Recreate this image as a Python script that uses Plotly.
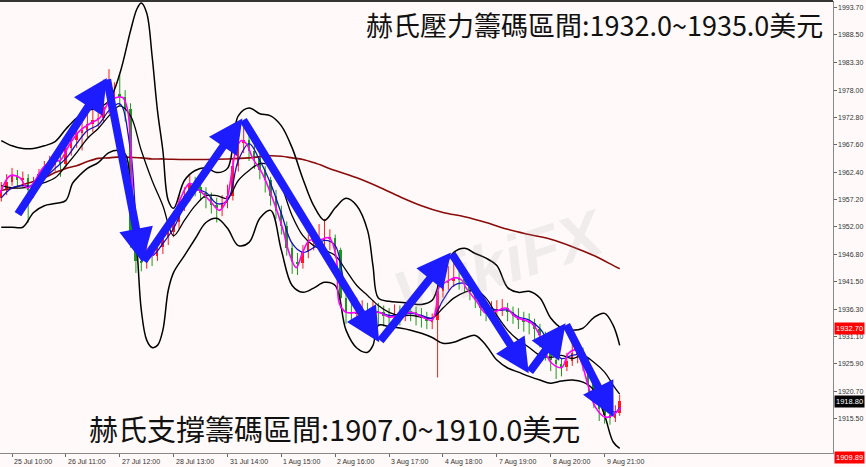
import plotly.graph_objects as go

# ---------------- data ----------------
time_tick_bars = [0, 25, 50, 75, 100, 125, 150, 175, 200, 225, 250, 275]
time_tick_text = ["25 Jul 10:00", "26 Jul 11:00", "27 Jul 12:00", "28 Jul 13:00",
                  "31 Jul 14:00", "1 Aug 15:00", "2 Aug 16:00", "3 Aug 17:00",
                  "4 Aug 18:00", "7 Aug 19:00", "8 Aug 20:00", "9 Aug 21:00"]
price_ticks = [1993.70, 1988.50, 1983.30, 1978.00, 1972.80, 1967.60, 1962.40, 1957.20,
               1952.00, 1946.80, 1941.50, 1936.30, 1931.10, 1925.90, 1920.70, 1915.50]

# candles, one every 2.5 hourly bars
candle_bar = [-5, -2.5, 0, 2.5, 5, 7.5, 10, 12.5, 15, 17.5, 20, 22.5, 25, 27.5, 30, 32.5, 35,
              37.5, 40, 42.5, 45, 47.5, 50, 52.5, 55, 57.5, 60, 62.5, 65, 67.5, 70, 72.5, 75,
              77.5, 80, 82.5, 85, 87.5, 90, 92.5, 95, 97.5, 100, 102.5, 105, 107.5, 110, 112.5,
              115, 117.5, 120, 122.5, 125, 127.5, 130, 132.5, 135, 137.5, 140, 142.5, 145,
              147.5, 150, 152.5, 155, 157.5, 160, 162.5, 165, 167.5, 170, 172.5, 175, 177.5,
              180, 182.5, 185, 187.5, 190, 192.5, 195, 197.5, 200, 202.5, 205, 207.5, 210,
              212.5, 215, 217.5, 220, 222.5, 225, 227.5, 230, 232.5, 235, 237.5, 240, 242.5,
              245, 247.5, 250, 252.5, 255, 257.5, 260, 262.5, 265, 267.5, 270, 272.5, 275,
              277.5, 280, 282]
candle_close = [1958.9, 1960.5, 1961.7, 1960.8, 1961.3, 1958.9, 1960.2, 1962.0, 1963.2, 1963.8,
                1964.6, 1964.0, 1966.9, 1968.5, 1969.9, 1970.4, 1971.6, 1972.4, 1972.7, 1974.8,
                1976.0, 1977.2, 1976.6, 1974.5, 1950.0, 1945.5, 1945.2, 1946.8, 1946.5, 1948.2,
                1950.0, 1951.0, 1952.8, 1956.2, 1957.9, 1960.3, 1959.6, 1958.5, 1957.5, 1956.2,
                1955.5, 1956.5, 1957.9, 1963.5, 1968.0, 1968.6, 1966.5, 1965.0, 1962.7, 1960.8,
                1957.9, 1955.0, 1952.2, 1948.0, 1945.2, 1945.0, 1947.1, 1949.0, 1949.4, 1949.6,
                1949.8, 1949.9, 1947.5, 1938.5, 1935.7, 1935.3, 1935.7, 1936.0, 1935.5, 1935.9,
                1935.7, 1935.0, 1934.8, 1935.4, 1935.1, 1935.9, 1935.7, 1935.0, 1934.8, 1934.0,
                1934.2, 1939.8, 1941.2, 1941.7, 1942.2, 1942.0, 1941.2, 1939.5, 1938.0, 1936.5,
                1935.5, 1936.0, 1936.1, 1936.6, 1935.7, 1935.0, 1934.2, 1934.0, 1933.6, 1932.5,
                1931.3, 1928.2, 1926.6, 1925.8, 1925.3, 1926.5, 1927.9, 1928.2, 1926.2, 1922.0,
                1919.0, 1917.2, 1916.1, 1915.6, 1916.5, 1918.8]
candle_high = [1960.5, 1962.0, 1963.2, 1962.8, 1962.5, 1962.0, 1961.5, 1963.0, 1964.5, 1965.5,
               1966.0, 1965.8, 1968.5, 1970.0, 1971.5, 1972.0, 1973.5, 1974.5, 1976.5, 1980.0,
               1982.0, 1979.5, 1981.0, 1978.0, 1975.5, 1952.0, 1947.5, 1948.5, 1948.8, 1950.0,
               1951.5, 1953.0, 1955.0, 1958.0, 1959.5, 1961.8, 1961.5, 1960.5, 1959.5, 1958.5,
               1957.5, 1958.0, 1960.0, 1965.0, 1972.0, 1971.5, 1969.5, 1967.5, 1966.0, 1963.5,
               1961.5, 1959.0, 1956.0, 1953.0, 1949.0, 1947.0, 1948.5, 1950.5, 1951.5, 1952.5,
               1953.5, 1951.5, 1950.5, 1948.0, 1939.5, 1937.5, 1938.5, 1938.0, 1937.5, 1938.0,
               1937.5, 1937.0, 1936.5, 1937.2, 1937.0, 1937.5, 1937.5, 1936.8, 1936.5, 1935.8,
               1935.5, 1941.0, 1943.5, 1944.5, 1945.5, 1944.0, 1943.0, 1942.0, 1940.0, 1938.5,
               1937.0, 1937.8, 1938.0, 1938.2, 1937.5, 1936.8, 1936.5, 1935.8, 1935.5, 1934.5,
               1933.5, 1932.0, 1929.5, 1927.5, 1927.0, 1928.0, 1931.0, 1930.0, 1929.0, 1927.0,
               1923.0, 1920.0, 1918.5, 1917.5, 1918.0, 1920.0]
candle_low = [1956.8, 1958.0, 1959.8, 1959.5, 1959.6, 1952.8, 1957.5, 1959.3, 1961.0, 1962.0,
              1962.5, 1961.5, 1963.0, 1965.5, 1967.0, 1966.5, 1969.0, 1970.0, 1971.0, 1972.0,
              1973.5, 1974.5, 1975.0, 1972.0, 1948.0, 1943.2, 1943.5, 1944.0, 1944.5, 1945.5,
              1946.8, 1948.5, 1950.0, 1951.5, 1955.0, 1956.8, 1957.8, 1957.0, 1955.5, 1954.5,
              1952.8, 1954.0, 1955.5, 1957.0, 1962.5, 1966.0, 1964.5, 1963.0, 1961.0, 1958.5,
              1956.0, 1953.5, 1950.5, 1946.5, 1943.0, 1942.8, 1944.0, 1946.0, 1947.5, 1947.8,
              1948.0, 1947.5, 1946.0, 1936.5, 1933.5, 1933.8, 1933.5, 1934.0, 1933.5, 1934.0,
              1933.2, 1933.0, 1932.8, 1933.5, 1933.2, 1934.0, 1934.0, 1933.2, 1932.8, 1932.5,
              1932.5, 1923.3, 1938.5, 1940.0, 1940.5, 1940.0, 1939.5, 1938.0, 1936.5, 1935.0,
              1934.0, 1934.5, 1934.5, 1935.0, 1934.0, 1933.5, 1932.5, 1932.0, 1931.5, 1930.5,
              1929.0, 1926.5, 1924.5, 1923.0, 1923.5, 1924.5, 1925.5, 1926.0, 1924.5, 1920.5,
              1917.5, 1915.0, 1914.5, 1914.3, 1914.8, 1916.0]
first_open = 1957.5

ma_fast_bar = [-5.5, -0.9, 3.7, 6.9, 9.7, 14.4, 19, 22.2, 26.9, 31.5, 36.1, 40.7, 45.4, 48.6,
               51.4, 53.7, 56.9, 59.3, 63.9, 68.5, 73.1, 77.8, 82.4, 87, 91.7, 96.3, 99.5,
               101.9, 104.2, 106.5, 108.8, 111.6, 116.2, 120.8, 125.5, 128.7, 131.9, 134.7,
               138, 142.6, 147.2, 150.5, 151.9, 155.1, 161.1, 165.7, 170.4, 175, 179.6, 185.6,
               190.3, 194.9, 196.8, 198.1, 202.8, 206, 208.8, 210.6, 215.3, 219.9, 225.9,
               229.2, 233.8, 241.2, 244.4, 247.7, 250.5, 255.1, 258.3, 261.6, 264.4, 267.6,
               270.8, 275.5, 280.1, 282.4]
ma_fast = [1958.3, 1961.7, 1961.3, 1959.4, 1960.2, 1963.2, 1964.6, 1964.6, 1967.8, 1970.3,
           1971.6, 1972.7, 1976.0, 1976.6, 1976.6, 1974.1, 1951.3, 1946.5, 1946.1, 1949.4,
           1951.9, 1957.0, 1960.2, 1958.9, 1957.0, 1955.1, 1957.0, 1962.1, 1967.0, 1968.4,
           1967.8, 1965.1, 1962.1, 1957.5, 1951.8, 1946.9, 1944.2, 1946.9, 1949.4, 1949.4,
           1949.9, 1946.1, 1937.4, 1935.7, 1935.7, 1935.5, 1935.7, 1934.8, 1935.1, 1935.7,
           1934.8, 1934.2, 1936.6, 1940.4, 1941.8, 1942.3, 1941.8, 1940.4, 1938.0, 1935.5,
           1936.1, 1936.5, 1934.8, 1933.6, 1931.7, 1927.9, 1926.0, 1925.2, 1927.9, 1928.5,
           1926.0, 1921.4, 1917.6, 1915.7, 1916.5, 1917.6]

grid_bar = [-5, 0, 5, 10, 15, 20, 25, 30, 35, 40, 45, 50, 55, 60, 65, 70, 75, 80, 85, 90, 95,
            100, 105, 110, 115, 120, 125, 130, 135, 140, 145, 150, 155, 160, 165, 170, 175,
            180, 185, 190, 195, 200, 205, 210, 215, 220, 225, 230, 235, 240, 245, 250, 255,
            260, 265, 270, 275, 280, 282]
ma_slow = [1957.5, 1959.4, 1959.8, 1959.8, 1961.3, 1963.1, 1965.0, 1967.8, 1970.3, 1971.4,
           1974.1, 1975.4, 1966.5, 1948.4, 1946.5, 1948.8, 1951.7, 1956.0, 1958.9, 1958.5,
           1956.4, 1957.0, 1964.6, 1967.8, 1964.6, 1960.2, 1954.5, 1948.8, 1947.1, 1948.0,
           1949.4, 1948.4, 1939.9, 1936.5, 1935.7, 1935.7, 1935.1, 1935.1, 1935.5, 1935.1,
           1934.6, 1938.0, 1940.8, 1941.2, 1939.5, 1937.0, 1936.1, 1936.1, 1934.8, 1934.2,
           1932.6, 1929.4, 1926.9, 1927.5, 1927.5, 1922.8, 1918.0, 1916.7, 1917.6]

ma_long_bar = [-5, 0, 5, 10, 15, 20, 25, 30, 35, 40, 45, 50, 55, 60, 65, 70, 80, 90, 100, 110,
               120, 125, 130, 135, 140, 150, 160, 170, 180, 190, 200, 210, 220, 230, 240, 250,
               260, 270, 280, 282]
ma_long = [1958.9, 1959.3, 1960.0, 1960.6, 1961.3, 1962.3, 1963.1, 1963.6, 1964.4, 1965.0,
           1965.1, 1965.3, 1965.2, 1965.1, 1964.9, 1964.9, 1964.8, 1964.8, 1964.9, 1965.1,
           1965.5, 1965.4, 1965.1, 1964.8, 1964.2, 1962.7, 1961.3, 1959.6, 1957.7, 1956.0,
           1954.7, 1953.9, 1952.8, 1951.5, 1950.5, 1949.6, 1948.2, 1946.5, 1944.4, 1944.0]

band_up_bar = [-5, 0, 5, 10, 15, 20, 25, 30, 35, 40, 45, 50, 55, 58, 60, 62.5, 65, 67.5, 70,
               72.5, 75, 80, 85, 90, 95, 100, 105, 110, 115, 120, 125, 130, 135, 140, 145, 150,
               155, 160, 165, 167.5, 170, 175, 180, 185, 190, 195, 200, 205, 210, 215, 220,
               225, 230, 235, 240, 245, 250, 255, 260, 265, 270, 275, 279, 282]
band_up = [1968.4, 1967.4, 1966.9, 1966.9, 1967.4, 1968.2, 1970.6, 1972.7, 1974.1, 1974.6,
           1976.0, 1981.1, 1989.3, 1993.5, 1994.6, 1992.7, 1984.5, 1974.1, 1966.5, 1957.0,
           1955.5, 1960.8, 1962.7, 1963.2, 1962.3, 1963.1, 1973.1, 1974.6, 1973.5, 1973.1,
           1971.2, 1967.0, 1961.1, 1956.0, 1953.2, 1955.6, 1957.4, 1956.0, 1951.3, 1944.6,
           1938.4, 1937.8, 1937.6, 1937.4, 1937.2, 1938.0, 1943.7, 1947.1, 1947.9, 1946.9,
           1946.0, 1944.6, 1940.4, 1939.5, 1939.7, 1938.4, 1934.6, 1932.7, 1932.3, 1932.7,
           1934.7, 1935.5, 1933.2, 1929.4]

band_low_bar = [-5, 0, 5, 10, 15, 20, 25, 28, 30, 35, 40, 45, 50, 53, 55, 58, 60, 62.5, 65,
                67.5, 70, 72.5, 75, 80, 85, 90, 95, 100, 105, 110, 115, 120, 125, 130, 135,
                140, 145, 150, 155, 160, 165, 167.5, 170, 175, 180, 185, 190, 195, 200, 205,
                210, 215, 220, 225, 230, 235, 240, 245, 250, 255, 260, 265, 270, 275, 279, 282]
band_low = [1951.9, 1951.9, 1951.9, 1954.7, 1956.0, 1956.4, 1957.0, 1960.2, 1961.2, 1963.1,
            1964.2, 1966.1, 1966.5, 1965.5, 1958.9, 1947.5, 1936.1, 1930.4, 1929.0, 1929.4,
            1932.3, 1939.9, 1943.3, 1946.5, 1949.7, 1952.8, 1953.6, 1951.7, 1948.4, 1949.0,
            1953.6, 1955.1, 1947.5, 1940.8, 1939.5, 1940.3, 1941.4, 1940.8, 1932.3, 1928.9,
            1928.1, 1929.4, 1933.2, 1933.0, 1932.7, 1932.3, 1931.7, 1930.9, 1929.8, 1930.0,
            1930.8, 1931.3, 1929.4, 1926.6, 1925.1, 1924.3, 1923.5, 1922.8, 1922.2, 1922.6,
            1922.8, 1922.4, 1920.9, 1916.1, 1911.0, 1909.8]

band_mid_bar = [-5, 0, 5, 10, 15, 20, 25, 30, 35, 40, 45, 50, 55, 60, 65, 70, 75, 80, 85, 90,
                95, 100, 105, 110, 115, 120, 125, 130, 135, 140, 145, 150, 155, 160, 165, 170,
                175, 180, 185, 190, 195, 200, 205, 210, 215, 220, 225, 230, 235, 240, 245, 250,
                255, 260, 265, 270, 275, 279, 282]
band_mid = [1959.8, 1959.4, 1959.4, 1959.8, 1960.4, 1961.3, 1963.6, 1966.1, 1968.8, 1970.7,
            1973.1, 1975.0, 1973.1, 1966.5, 1960.8, 1956.0, 1950.3, 1953.2, 1956.0, 1957.9,
            1957.9, 1957.4, 1960.8, 1962.7, 1964.0, 1963.6, 1959.8, 1954.1, 1950.3, 1948.4,
            1947.5, 1946.5, 1943.7, 1940.8, 1938.9, 1937.0, 1935.7, 1935.1, 1935.1, 1934.8,
            1934.6, 1936.5, 1938.4, 1939.5, 1939.9, 1938.4, 1935.1, 1932.3, 1930.4, 1929.0,
            1927.5, 1927.1, 1927.5, 1926.9, 1927.5, 1926.2, 1924.3, 1921.8, 1920.1]

# blue hand-drawn arrows: (bar, price) of the turning points
arrow_bar = [2.3, 44.0, 60.6, 106.9, 170.4, 203.7, 239.8, 256.9, 279.2]
arrow_price = [1954.1, 1980.3, 1945.2, 1972.6, 1930.0, 1947.1, 1924.1, 1933.6, 1915.7]

resist_level = 1932.70
support_level = 1909.89
last_price = 1918.80
text_top = "赫氏壓力籌碼區間:1932.0~1935.0美元"
text_bottom = "赫氏支撐籌碼區間:1907.0~1910.0美元"

# ---------------- figure ----------------
fig = go.Figure()

up_color = "#ff1a1a"
down_color = "#1a9a1a"
candle_open = [first_open] + candle_close[:-1]

# candles: wicks as line segments, bodies as floating bars
for col, cond in ((up_color, True), (down_color, False)):
    xs, ys = [], []
    bx, bb, bh = [], [], []
    for b, o, h, l, c in zip(candle_bar, candle_open, candle_high, candle_low, candle_close):
        if (c >= o) == cond:
            xs += [b, b, None]
            ys += [l, h, None]
            bx.append(b)
            bb.append(min(o, c))
            bh.append(max(abs(c - o), 0.3))
    fig.add_trace(go.Scatter(x=xs, y=ys, mode="lines", line=dict(color=col, width=1),
                             hoverinfo="skip", showlegend=False))
    fig.add_trace(go.Bar(x=bx, y=bh, base=bb, width=0.9, marker=dict(color=col, line_width=0),
                         hoverinfo="skip", showlegend=False))

line_kw = dict(mode="lines", hoverinfo="skip", showlegend=False)
fig.add_trace(go.Scatter(x=ma_long_bar, y=ma_long, line=dict(color="#8b0a0a", width=1.6, shape="spline"), **line_kw))
fig.add_trace(go.Scatter(x=band_up_bar, y=band_up, line=dict(color="#000000", width=1.5, shape="spline"), **line_kw))
fig.add_trace(go.Scatter(x=band_mid_bar, y=band_mid, line=dict(color="#000000", width=1.3, shape="spline"), **line_kw))
fig.add_trace(go.Scatter(x=band_low_bar, y=band_low, line=dict(color="#000000", width=1.5, shape="spline"), **line_kw))
fig.add_trace(go.Scatter(x=grid_bar, y=ma_slow, line=dict(color="#1010c0", width=1.3, shape="spline"), **line_kw))
fig.add_trace(go.Scatter(x=ma_fast_bar, y=ma_fast, line=dict(color="#ff00ff", width=1.6, shape="spline"), **line_kw))

# horizontal levels
fig.add_hline(y=last_price, line=dict(color="#b8bcc4", width=1))
fig.add_hline(y=resist_level, line=dict(color="#ff0000", width=2))
fig.add_hline(y=support_level, line=dict(color="#ff0000", width=2))

annotations = []
# watermark
annotations.append(dict(x=0.6, y=0.42, xref="paper", yref="paper", text="<i><b>WikiFX</b></i>", showarrow=False,
                        xanchor="center", yanchor="middle",
                        textangle=-18, font=dict(family="Liberation Sans", size=64, color="rgba(170,170,170,0.16)")))
# arrows
for i in range(len(arrow_bar) - 1):
    annotations.append(dict(x=arrow_bar[i + 1], y=arrow_price[i + 1], ax=arrow_bar[i], ay=arrow_price[i],
                            xref="x", yref="y", axref="x", ayref="y", text="", showarrow=True,
                            arrowhead=2, arrowsize=0.85, arrowwidth=8, arrowcolor="#1c1cff", standoff=0))

# price-axis labels (left-aligned just right of the axis line)
for v in price_ticks:
    annotations.append(dict(x=1, xref="paper", y=v, yref="y", xanchor="left", yanchor="middle",
                            xshift=3, text=f"{v:.2f}", showarrow=False,
                            font=dict(family="Liberation Sans", size=7, color="#333333")))
# time-axis labels (start at their tick)
for b, t in zip(time_tick_bars, time_tick_text):
    annotations.append(dict(x=b, xref="x", y=0, yref="paper", xanchor="left", yanchor="top",
                            yshift=-3, text=t, showarrow=False,
                            font=dict(family="Liberation Sans", size=7, color="#333333")))

# price tags on the right axis
for val, bg, shift in ((resist_level, "#ff0000", 0), (last_price, "#000000", 0), (support_level, "#ff0000", -10)):
    annotations.append(dict(x=1, xref="paper", y=val, yref="y", xanchor="left", yanchor="middle",
                            text=f"{val:.2f}", showarrow=False, bgcolor=bg, borderpad=1, xshift=1, yshift=shift,
                            font=dict(family="Liberation Sans", size=7.5, color="#ffffff")))

# big texts
annotations.append(dict(x=0.714, y=0.947, xref="paper", yref="paper", xanchor="center", yanchor="middle",
                        text=text_top, showarrow=False,
                        font=dict(family="Noto Sans CJK TC", size=27, color="#111111")))
annotations.append(dict(x=0.402, y=0.055, xref="paper", yref="paper", xanchor="center", yanchor="middle",
                        text=text_bottom, showarrow=False,
                        font=dict(family="Noto Sans CJK TC", size=29, color="#111111")))

fig.update_layout(
    width=866, height=467,
    margin=dict(l=0, r=33, t=1, b=14),
    paper_bgcolor="#fffaf9", plot_bgcolor="#fffaf9",
    barmode="overlay", bargap=0,
    annotations=annotations,
    xaxis=dict(range=[-5.58, 381.0], showgrid=False, zeroline=False,
               tickmode="array", tickvals=time_tick_bars, showticklabels=False,
               ticks="outside", ticklen=3, tickcolor="#666",
               showline=True, linecolor="#888", linewidth=1, fixedrange=True),
    yaxis=dict(range=[1908.91, 1994.97], side="right", showgrid=False, zeroline=False,
               tickmode="array", tickvals=price_ticks, showticklabels=False,
               ticks="outside", ticklen=3, tickcolor="#666",
               showline=True, linecolor="#888", linewidth=1, fixedrange=True),
    shapes=[dict(type="line", xref="paper", yref="paper", x0=0, x1=1, y0=1, y1=1,
                 line=dict(color="#333", width=1.5))],
)

fig.write_html("out.html", config={"displayModeBar": False},
               post_script="document.body.style.margin='0';document.body.style.overflow='hidden';")
